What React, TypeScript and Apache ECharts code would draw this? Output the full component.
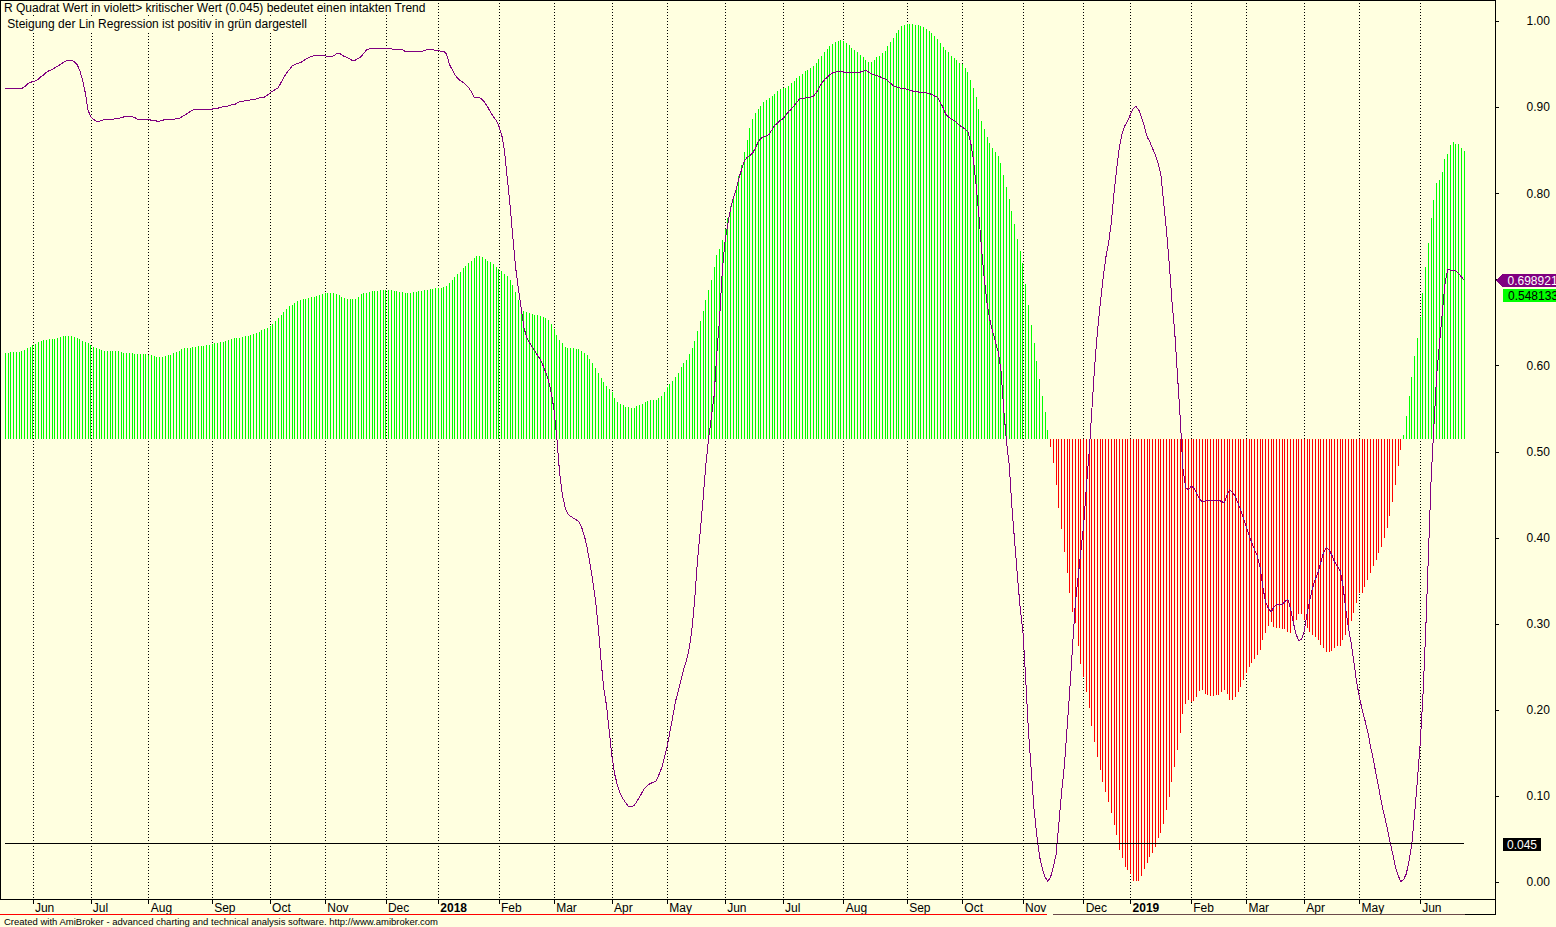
import React, { useEffect, useRef } from "react";
import * as echarts from "echarts";

// R-squared of the linear regression (violet line), one value per trading day
const R2 = [
  0.922,0.922,0.922,0.922,0.922,0.922,0.922,0.924,0.927,0.929,
  0.930,0.931,0.933,0.936,0.938,0.941,0.943,0.944,0.946,0.948,
  0.950,0.952,0.954,0.955,0.955,0.953,0.950,0.943,0.932,0.917,
  0.897,0.889,0.886,0.884,0.884,0.885,0.886,0.886,0.886,0.886,
  0.887,0.887,0.888,0.889,0.889,0.889,0.889,0.888,0.886,0.886,
  0.886,0.886,0.886,0.885,0.885,0.884,0.884,0.885,0.886,0.886,
  0.886,0.886,0.887,0.887,0.889,0.891,0.893,0.895,0.897,0.898,
  0.898,0.898,0.898,0.898,0.898,0.898,0.899,0.899,0.900,0.901,
  0.901,0.902,0.903,0.903,0.905,0.907,0.907,0.908,0.908,0.909,
  0.909,0.910,0.911,0.912,0.912,0.914,0.917,0.919,0.921,0.923,
  0.929,0.935,0.940,0.944,0.948,0.950,0.951,0.952,0.954,0.956,
  0.958,0.959,0.960,0.960,0.960,0.960,0.960,0.959,0.959,0.960,
  0.962,0.963,0.961,0.959,0.958,0.956,0.954,0.955,0.957,0.959,
  0.963,0.967,0.968,0.968,0.968,0.968,0.968,0.968,0.968,0.968,
  0.968,0.967,0.967,0.967,0.967,0.965,0.965,0.965,0.965,0.965,
  0.965,0.965,0.966,0.967,0.967,0.967,0.966,0.966,0.965,0.965,
  0.962,0.950,0.944,0.938,0.934,0.931,0.929,0.926,0.923,0.918,
  0.912,0.911,0.911,0.909,0.905,0.900,0.894,0.889,0.885,0.878,
  0.868,0.850,0.818,0.787,0.750,0.715,0.690,0.668,0.645,0.633,
  0.627,0.622,0.617,0.612,0.607,0.600,0.592,0.582,0.568,0.548,
  0.515,0.475,0.450,0.435,0.428,0.425,0.423,0.421,0.419,0.412,
  0.402,0.388,0.370,0.350,0.328,0.296,0.258,0.225,0.205,0.175,
  0.145,0.125,0.112,0.103,0.097,0.092,0.088,0.088,0.089,0.094,
  0.099,0.105,0.110,0.113,0.115,0.116,0.118,0.125,0.133,0.145,
  0.158,0.175,0.192,0.210,0.222,0.235,0.248,0.258,0.272,0.295,
  0.330,0.375,0.408,0.445,0.485,0.515,0.540,0.565,0.615,0.655,
  0.712,0.745,0.765,0.783,0.795,0.805,0.818,0.828,0.838,0.842,
  0.844,0.847,0.853,0.860,0.864,0.866,0.867,0.869,0.874,0.879,
  0.882,0.885,0.887,0.891,0.895,0.898,0.902,0.906,0.910,0.910,
  0.911,0.911,0.912,0.913,0.917,0.922,0.928,0.932,0.935,0.938,
  0.940,0.941,0.942,0.942,0.941,0.941,0.941,0.941,0.940,0.940,
  0.941,0.942,0.943,0.941,0.939,0.938,0.937,0.936,0.934,0.933,
  0.931,0.928,0.925,0.924,0.923,0.922,0.922,0.921,0.920,0.919,
  0.918,0.918,0.917,0.917,0.917,0.916,0.915,0.913,0.912,0.906,
  0.900,0.892,0.889,0.886,0.885,0.882,0.879,0.877,0.875,0.872,
  0.860,0.840,0.810,0.775,0.735,0.700,0.672,0.653,0.640,0.628,
  0.616,0.595,0.550,0.512,0.485,0.435,0.395,0.355,0.318,0.290,
  0.235,0.175,0.130,0.085,0.055,0.030,0.016,0.006,0.001,0.006,
  0.018,0.032,0.068,0.105,0.135,0.180,0.225,0.275,0.325,0.355,
  0.385,0.415,0.460,0.500,0.550,0.600,0.640,0.672,0.700,0.725,
  0.742,0.765,0.800,0.830,0.855,0.870,0.879,0.885,0.892,0.899,
  0.901,0.897,0.888,0.878,0.866,0.860,0.852,0.845,0.835,0.822,
  0.790,0.758,0.720,0.675,0.640,0.590,0.540,0.480,0.458,0.456,
  0.460,0.458,0.452,0.445,0.442,0.443,0.444,0.444,0.444,0.444,
  0.444,0.442,0.441,0.450,0.456,0.453,0.448,0.440,0.432,0.422,
  0.413,0.403,0.394,0.386,0.379,0.365,0.342,0.325,0.318,0.314,
  0.320,0.323,0.322,0.323,0.326,0.329,0.318,0.302,0.288,0.281,
  0.282,0.292,0.312,0.328,0.342,0.352,0.360,0.372,0.383,0.389,
  0.386,0.380,0.372,0.367,0.362,0.345,0.318,0.295,0.278,0.255,
  0.232,0.215,0.200,0.188,0.175,0.158,0.143,0.126,0.110,0.092,
  0.078,0.064,0.048,0.034,0.018,0.008,0.001,0.003,0.010,0.025,
  0.045,0.080,0.118,0.160,0.215,0.290,0.380,0.470,0.530,0.590,
  0.625,0.660,0.695,0.712,0.711,0.711,0.710,0.707,0.703,0.699,
];

// Slope histogram, read as the level of each bar's end on the right-hand scale
const SLOPE_LEVEL = [
  0.615,0.615,0.616,0.616,0.616,0.616,0.617,0.618,0.620,0.622,
  0.624,0.625,0.628,0.629,0.630,0.630,0.631,0.631,0.631,0.632,
  0.633,0.634,0.634,0.634,0.634,0.633,0.632,0.631,0.629,0.628,
  0.626,0.624,0.622,0.620,0.619,0.618,0.617,0.617,0.617,0.617,
  0.617,0.617,0.616,0.615,0.615,0.615,0.615,0.614,0.614,0.614,
  0.614,0.614,0.613,0.612,0.611,0.610,0.610,0.610,0.611,0.612,
  0.613,0.615,0.616,0.617,0.619,0.620,0.621,0.621,0.622,0.622,
  0.623,0.623,0.623,0.624,0.624,0.625,0.626,0.626,0.627,0.628,
  0.629,0.630,0.631,0.632,0.632,0.632,0.633,0.634,0.635,0.636,
  0.637,0.638,0.639,0.641,0.643,0.644,0.646,0.649,0.652,0.655,
  0.659,0.662,0.666,0.669,0.671,0.673,0.675,0.676,0.677,0.678,
  0.679,0.680,0.680,0.681,0.682,0.683,0.684,0.684,0.684,0.684,
  0.683,0.682,0.680,0.679,0.678,0.678,0.677,0.677,0.680,0.683,
  0.684,0.685,0.686,0.687,0.687,0.687,0.688,0.688,0.688,0.688,
  0.688,0.687,0.687,0.686,0.686,0.685,0.685,0.685,0.686,0.686,
  0.687,0.687,0.688,0.688,0.689,0.689,0.690,0.690,0.690,0.691,
  0.693,0.696,0.699,0.703,0.706,0.709,0.713,0.716,0.719,0.722,
  0.725,0.727,0.727,0.726,0.724,0.722,0.720,0.718,0.715,0.712,
  0.710,0.707,0.704,0.700,0.694,0.686,0.676,0.668,0.664,0.662,
  0.661,0.660,0.659,0.659,0.658,0.657,0.655,0.653,0.649,0.643,
  0.636,0.630,0.626,0.622,0.620,0.620,0.620,0.619,0.619,0.617,
  0.615,0.612,0.608,0.603,0.597,0.591,0.586,0.581,0.577,0.573,
  0.570,0.562,0.558,0.555,0.554,0.552,0.552,0.551,0.551,0.553,
  0.554,0.556,0.558,0.559,0.560,0.560,0.560,0.562,0.565,0.569,
  0.575,0.579,0.582,0.587,0.592,0.598,0.603,0.607,0.614,0.620,
  0.629,0.640,0.652,0.664,0.676,0.688,0.700,0.715,0.728,0.736,
  0.746,0.759,0.772,0.785,0.797,0.807,0.820,0.833,0.848,0.862,
  0.876,0.886,0.893,0.898,0.902,0.906,0.909,0.911,0.913,0.916,
  0.919,0.921,0.922,0.923,0.925,0.928,0.931,0.934,0.936,0.939,
  0.942,0.944,0.946,0.948,0.951,0.956,0.960,0.964,0.968,0.971,
  0.974,0.976,0.977,0.978,0.977,0.975,0.972,0.969,0.967,0.964,
  0.961,0.958,0.955,0.953,0.953,0.955,0.958,0.960,0.963,0.966,
  0.971,0.976,0.981,0.986,0.990,0.994,0.996,0.997,0.997,0.997,
  0.996,0.996,0.995,0.993,0.991,0.989,0.986,0.983,0.979,0.975,
  0.970,0.967,0.964,0.960,0.957,0.955,0.952,0.950,0.946,0.941,
  0.932,0.922,0.912,0.898,0.884,0.875,0.866,0.859,0.853,0.848,
  0.843,0.836,0.822,0.808,0.794,0.780,0.764,0.747,0.733,0.719,
  0.695,0.670,0.647,0.626,0.605,0.585,0.565,0.546,0.525,0.506,
  0.487,0.462,0.435,0.410,0.384,0.359,0.336,0.314,0.301,0.274,
  0.254,0.239,0.221,0.202,0.181,0.163,0.146,0.130,0.117,0.105,
  0.093,0.080,0.067,0.055,0.038,0.028,0.018,0.014,0.010,0.002,
  0.001,0.002,0.007,0.016,0.022,0.029,0.034,0.041,0.051,0.057,
  0.068,0.084,0.099,0.117,0.134,0.154,0.173,0.196,0.207,0.212,
  0.209,0.210,0.215,0.222,0.223,0.219,0.217,0.216,0.216,0.217,
  0.218,0.221,0.223,0.219,0.212,0.212,0.215,0.221,0.227,0.235,
  0.243,0.250,0.255,0.259,0.264,0.270,0.281,0.289,0.298,0.302,
  0.297,0.295,0.295,0.294,0.294,0.291,0.289,0.301,0.305,0.312,
  0.312,0.305,0.295,0.291,0.287,0.285,0.281,0.276,0.272,0.268,
  0.267,0.269,0.272,0.274,0.275,0.281,0.287,0.293,0.303,0.313,
  0.324,0.336,0.336,0.343,0.351,0.359,0.367,0.374,0.382,0.390,
  0.400,0.412,0.425,0.442,0.461,0.484,0.502,0.520,0.541,0.565,
  0.587,0.611,0.632,0.657,0.684,0.715,0.742,0.771,0.793,0.812,
  0.816,0.825,0.840,0.846,0.856,0.860,0.858,0.858,0.853,0.849,
];

// Month tick positions (bar index of the first trading day) and their labels
const TICK_INDEX = [10, 31, 52, 75, 96, 116, 138, 157, 179, 199, 220, 240, 261, 282, 304, 327, 347, 369, 391, 408, 430, 450, 471, 491, 513];
const TICK_LABEL = ["Jun", "Jul", "Aug", "Sep", "Oct", "Nov", "Dec", "2018", "Feb", "Mar", "Apr", "May", "Jun", "Jul", "Aug", "Sep", "Oct", "Nov", "Dec", "2019", "Feb", "Mar", "Apr", "May", "Jun"];

const SLOTS = 541; // trading-day slots across the plot (data + blank right margin)
const BASELINE = 0.5152; // level of the histogram's zero line
const CRITICAL = 0.045;
const LAST_R2 = 0.698921;
const LAST_SLOPE = 0.548133;

const TITLE_1 = "R Quadrat Wert in violett> kritischer Wert (0.045) bedeutet einen intakten Trend";
const TITLE_2 = " Steigung der Lin Regression ist positiv in grün dargestell";
const FOOTER = "Created with AmiBroker - advanced charting and technical analysis software. http://www.amibroker.com";

const FONT = 'Arial, "Liberation Sans", sans-serif';
const BG = "#FFFFE0";

export default function App() {
  const ref = useRef<HTMLDivElement>(null);

  useEffect(() => {
    if (!ref.current) return;
    const chart = echarts.init(ref.current, undefined, { renderer: "svg" });

    const cats = Array.from({ length: SLOTS }, (_, i) => String(i));
    const labelMap: Record<number, string> = {};
    TICK_INDEX.forEach((ix, k) => (labelMap[ix] = TICK_LABEL[k]));
    const isTick = (idx: number) => labelMap[idx] !== undefined;

    const gridLeft = 5.3;
    const gridRight = 61.4;

    const option: any = {
      animation: false,
      backgroundColor: BG,
      grid: [
        { left: gridLeft, right: gridRight, top: 0, bottom: 27.5, containLabel: false },
        { left: gridLeft, right: gridRight, top: 21.3, bottom: 44.7, containLabel: false },
      ],
      xAxis: [
        {
          gridIndex: 0,
          type: "category",
          data: cats,
          boundaryGap: false,
          axisLine: { show: false },
          axisTick: { show: true, inside: false, length: 4, interval: (i: number) => isTick(i), lineStyle: { color: "#000", width: 1 } },
          splitLine: { show: true, interval: (i: number) => isTick(i), lineStyle: { color: "#000", width: 1, type: [1, 2] } },
          axisLabel: {
            show: true,
            interval: (i: number) => isTick(i),
            formatter: (_v: string, i: number) => {
              const l = labelMap[i] || "";
              return /^\d{4}$/.test(l) ? `{y|${l}}` : l;
            },
            rich: { y: { fontWeight: "bold", fontSize: 12, fontFamily: FONT, color: "#000" } },
            align: "left",
            margin: 2,
            padding: [0, 0, 0, 2],
            color: "#000",
            fontSize: 12,
            fontFamily: FONT,
          },
        },
        { gridIndex: 1, type: "category", data: cats, boundaryGap: false, show: false },
      ],
      yAxis: [
        { gridIndex: 0, type: "value", min: 0, max: 1, show: false },
        {
          gridIndex: 1,
          type: "value",
          position: "right",
          min: 0,
          max: 1,
          interval: 0.1,
          axisLine: { show: false },
          axisTick: { show: true, inside: false, length: 4, lineStyle: { color: "#000" } },
          splitLine: { show: false },
          axisLabel: {
            // the label hidden behind the last-value flags is not drawn
            formatter: (v: number) => (Math.abs(v - LAST_R2) < 0.03 ? "" : v.toFixed(2)),
            color: "#000",
            fontSize: 12,
            fontFamily: FONT,
            margin: 32,
            align: "left",
          },
        },
        { gridIndex: 1, type: "value", position: "right", min: -BASELINE, max: 1 - BASELINE, show: false },
      ],
      series: [
        {
          type: "bar",
          xAxisIndex: 1,
          yAxisIndex: 2,
          data: SLOPE_LEVEL.map((v) => +(v - BASELINE).toFixed(4)),
          barWidth: 1,
          itemStyle: { color: (p: any) => (p.value >= 0 ? "#00FF00" : "#FF0000") },
          silent: true,
        },
        {
          type: "line",
          xAxisIndex: 1,
          yAxisIndex: 1,
          data: R2,
          symbol: "none",
          showSymbol: false,
          lineStyle: { color: "#800080", width: 1 },
          silent: true,
          markLine: {
            silent: true,
            symbol: ["none", "none"],
            label: { show: false },
            lineStyle: { color: "#000", type: "solid", width: 1 },
            data: [[{ coord: [0, CRITICAL] }, { coord: [R2.length - 1, CRITICAL] }]],
          },
        },
      ],
    };
    chart.setOption(option);

    const yR2 = chart.convertToPixel({ yAxisIndex: 1 } as any, LAST_R2) as number;
    const yCrit = chart.convertToPixel({ yAxisIndex: 1 } as any, CRITICAL) as number;
    const ySlope = yR2 + 15;
    const plotRight = 1495.5;

    const graphic: any[] = [
      // plot frame
      { type: "rect", silent: true, z: 100, shape: { x: 0.5, y: 0.5, width: plotRight - 0.5, height: 899 }, style: { fill: "none", stroke: "#000", lineWidth: 1 } },
      { type: "line", silent: true, z: 100, shape: { x1: plotRight, y1: 899.5, x2: plotRight, y2: 915 }, style: { stroke: "#000", lineWidth: 1 } },
      { type: "line", silent: true, z: 100, shape: { x1: 1465, y1: 914.5, x2: plotRight, y2: 914.5 }, style: { stroke: "#000", lineWidth: 1 } },
      { type: "line", silent: true, z: 100, shape: { x1: 0, y1: 914.5, x2: 1047, y2: 914.5 }, style: { stroke: "#FF0000", lineWidth: 1.5 } },
      { type: "line", silent: true, z: 100, shape: { x1: 1053, y1: 914.5, x2: 1465, y2: 914.5 }, style: { stroke: "#6A4A4A", lineWidth: 1.5 } },
      // titles (opaque background hides the grid lines behind them)
      { type: "text", silent: true, z: 100, x: 2, y: 8, style: { text: TITLE_1, fill: "#000", fontSize: 12, fontFamily: FONT, verticalAlign: "middle", align: "left", backgroundColor: BG, padding: [1, 2, 1, 2] } },
      { type: "text", silent: true, z: 100, x: 2, y: 23.5, style: { text: TITLE_2, fill: "#000", fontSize: 12, fontFamily: FONT, verticalAlign: "middle", align: "left", backgroundColor: BG, padding: [1, 2, 1, 2] } },
      // footer
      { type: "text", silent: true, z: 100, x: 4, y: 921, style: { text: FOOTER, fill: "#000", fontSize: 9.5, fontFamily: FONT, verticalAlign: "middle", align: "left" } },
      // last value of R2 (violet flag)
      {
        type: "polygon", silent: true, z: 100,
        shape: { points: [[plotRight, yR2], [1503, yR2 - 6.7], [1556, yR2 - 6.7], [1556, yR2 + 6.7], [1503, yR2 + 6.7]] },
        style: { fill: "#800080" },
      },
      { type: "text", silent: true, z: 101, x: 1507.5, y: yR2 + 0.5, style: { text: LAST_R2.toFixed(6), fill: "#FFFFFF", fontSize: 12, fontFamily: FONT, verticalAlign: "middle", align: "left" } },
      // last value of the slope (green box)
      { type: "rect", silent: true, z: 100, shape: { x: 1503, y: ySlope - 6.7, width: 53, height: 13.4 }, style: { fill: "#00FF00" } },
      { type: "text", silent: true, z: 101, x: 1508, y: ySlope + 0.5, style: { text: LAST_SLOPE.toFixed(6), fill: "#000", fontSize: 12, fontFamily: FONT, verticalAlign: "middle", align: "left" } },
      // critical value (black box)
      { type: "rect", silent: true, z: 100, shape: { x: 1503, y: yCrit - 6.7 + 0.8, width: 37.5, height: 13.4 }, style: { fill: "#000" } },
      { type: "text", silent: true, z: 101, x: 1507, y: yCrit + 1.3, style: { text: String(CRITICAL), fill: "#FFFFFF", fontSize: 12, fontFamily: FONT, verticalAlign: "middle", align: "left" } },
    ];
    chart.setOption({ graphic });

    return () => chart.dispose();
  }, []);

  return (
    <>
      <style>{`#amichart svg path, #amichart svg rect, #amichart svg polygon, #amichart svg line { shape-rendering: crispEdges; }`}</style>
      <div
        id="amichart"
        ref={ref}
        style={{ position: "fixed", left: 0, top: 0, width: 1556, height: 927, background: BG }}
      />
    </>
  );
}
